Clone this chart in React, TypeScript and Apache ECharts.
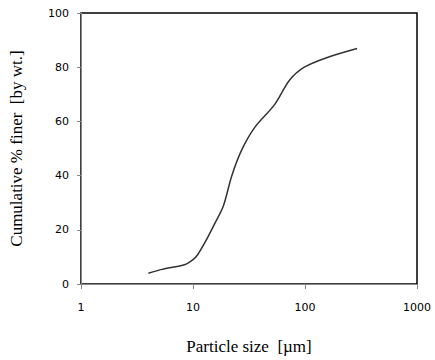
import React, { useEffect, useRef } from "react";
import * as echarts from "echarts";

const particleSizes = [4, 5.3, 8.5, 10, 11, 12.9, 15.5, 18.7, 22.1, 27.1, 35.6, 53.5, 72.7, 98.6, 158, 292];
const cumulativeFiner = [4, 5.4, 7.2, 9.0, 10.8, 15.6, 22, 28.9, 39.7, 49.3, 57.8, 66.2, 75.2, 80.0, 83.6, 86.9];
const xTitle = "Particle size  [µm]";
const yTitle = "Cumulative % finer  [by wt.]";

export default function App() {
  const ref = useRef<HTMLDivElement>(null);
  useEffect(() => {
    if (!ref.current) return;
    const chart = echarts.init(ref.current, null, { renderer: "svg" });
    const tickLabel = { color: "#000", fontFamily: "DejaVu Sans", fontSize: 11 };
    chart.setOption({
      animation: false,
      backgroundColor: "#fff",
      grid: {
        left: 78,
        right: 18,
        top: 13,
        bottom: 70,
        show: true,
        borderColor: "#000",
        borderWidth: 1.5,
      },
      xAxis: {
        type: "log",
        logBase: 10,
        min: 1,
        max: 1000,
        name: xTitle,
        nameLocation: "middle",
        nameGap: 54,
        nameTextStyle: { fontFamily: "Liberation Serif", fontSize: 17, color: "#000" },
        axisLine: { show: true, lineStyle: { color: "#888", width: 1 } },
        axisTick: { show: true, length: 5, lineStyle: { color: "#888" } },
        minorTick: { show: false },
        splitLine: { show: false },
        axisLabel: { ...tickLabel, margin: 18, formatter: (v: number) => String(Math.round(v)) },
      },
      yAxis: {
        type: "value",
        min: 0,
        max: 100,
        interval: 20,
        name: yTitle,
        nameLocation: "middle",
        nameGap: 56,
        nameTextStyle: { fontFamily: "Liberation Serif", fontSize: 17, color: "#000" },
        axisLine: { show: true, lineStyle: { color: "#888", width: 1 } },
        axisTick: { show: true, length: 4, lineStyle: { color: "#888" } },
        splitLine: { show: false },
        axisLabel: { ...tickLabel, margin: 12 },
      },
      series: [
        {
          type: "line",
          data: particleSizes.map((x, i) => [x, cumulativeFiner[i]]),
          smooth: 0.3,
          showSymbol: false,
          lineStyle: { color: "#333", width: 1.5 },
        },
      ],
    });
    return () => chart.dispose();
  }, []);
  return <div ref={ref} style={{ width: 435, height: 360, position: "absolute", left: 0, top: 0 }} />;
}
